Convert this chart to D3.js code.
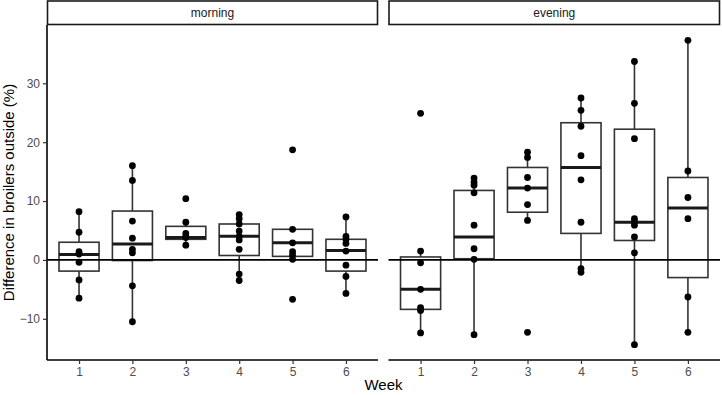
<!DOCTYPE html>
<html>
<head>
<meta charset="utf-8">
<script src="https://cdn.jsdelivr.net/npm/d3@7"></script>
<style>
  body { margin: 0; background: #fff; }
  text { font-family: "Liberation Sans", Arial, sans-serif; }
</style>
</head>
<body>
<svg id="chart" width="722" height="395"></svg>
<script>
var width = 722, height = 395

var weeks = [1, 2, 3, 4, 5, 6]
var sessions = ["morning", "evening"]
var yTicks = [-10, 0, 10, 20, 30]

// individual observations per week
var morningPoints = [
  [8.2, 4.7, 1.4, 1.0, -0.4, -3.4, -6.5],
  [16.0, 13.5, 6.6, 3.7, 1.8, 1.2, -4.4, -10.5],
  [10.4, 6.4, 4.5, 4.0, 3.8, 2.5],
  [7.7, 7.0, 6.1, 4.9, 4.0, 3.4, 1.8, -2.4, -3.5],
  [18.7, 5.2, 2.9, 1.4, 0.8, 0.1, -6.7],
  [7.3, 4.0, 3.5, 2.8, 1.5, -0.9, -2.8, -5.7]
]
var eveningPoints = [
  [24.9, 1.5, -0.5, -5.0, -8.1, -8.6, -12.4],
  [13.9, 13.2, 12.7, 11.4, 5.9, 1.9, 0.1, -12.7],
  [18.3, 17.4, 14.0, 12.2, 9.4, 6.7, -12.3],
  [27.5, 25.4, 22.7, 17.7, 13.6, 6.4, -1.5, -2.1],
  [33.7, 26.6, 20.6, 7.0, 6.5, 5.9, 3.9, 1.2, -14.4],
  [37.3, 15.1, 10.6, 7.0, -6.3, -12.3]
]

// box stats: [lower whisker, q1, median, q3, upper whisker]
var morningBox = [
  [-6.5, -1.9, 0.9, 3.0, 8.2],
  [-10.5, -0.1, 2.7, 8.3, 16.0],
  [2.5, 3.5, 3.8, 5.7, 6.4],
  [-3.5, 0.75, 4.0, 6.1, 7.7],
  [0.1, 0.6, 2.9, 5.2, 5.2],
  [-5.7, -1.9, 1.6, 3.5, 7.3]
]
var eveningBox = [
  [-12.4, -8.4, -5.0, 0.5, 1.5],
  [-12.7, 0.2, 3.9, 11.8, 13.9],
  [6.7, 8.1, 12.2, 15.7, 18.3],
  [-2.1, 4.5, 15.7, 23.3, 27.5],
  [-14.4, 3.3, 6.4, 22.2, 33.7],
  [-12.3, -3.0, 8.8, 14.0, 37.3]
]

var panels = [
  {name: sessions[0], left: 47, right: 378, points: morningPoints, box: morningBox},
  {name: sessions[1], left: 388.5, right: 720, points: eveningPoints, box: eveningBox}
]

var panelTop = 25, panelBottom = 360

var y = d3.scaleLinear().domain([-17.0, 39.9]).range([panelBottom, panelTop])

var svg = d3.select('#chart')

panels.forEach(function(p, pi) {
  var x = d3.scalePoint().domain(weeks).range([p.left, p.right]).padding(0.6)
  var bw = x.step() * 0.75
  var g = svg.append('g')

  // strip
  g.append('rect')
    .attr('x', p.left + 0.5).attr('y', 1)
    .attr('width', p.right - p.left - 1).attr('height', 23.5)
    .attr('fill', 'white').attr('stroke', '#1a1a1a').attr('stroke-width', 1.6)
  g.append('text')
    .attr('x', (p.left + p.right) / 2).attr('y', 17)
    .attr('text-anchor', 'middle')
    .style('font-size', '12px').attr('fill', '#1a1a1a')
    .text(p.name)

  var boxes = g.append('g').selectAll('g')
    .data(p.box)
    .enter().append('g')

  // whiskers
  boxes.append('line')
    .attr('x1', (d, i) => x(weeks[i])).attr('x2', (d, i) => x(weeks[i]))
    .attr('y1', d => y(d[4])).attr('y2', d => y(d[3]))
    .attr('stroke', '#333').attr('stroke-width', 1.6)
  boxes.append('line')
    .attr('x1', (d, i) => x(weeks[i])).attr('x2', (d, i) => x(weeks[i]))
    .attr('y1', d => y(d[1])).attr('y2', d => y(d[0]))
    .attr('stroke', '#333').attr('stroke-width', 1.6)

  boxes.append('rect')
    .attr('x', (d, i) => x(weeks[i]) - bw / 2)
    .attr('y', d => y(d[3]))
    .attr('width', bw)
    .attr('height', d => y(d[1]) - y(d[3]))
    .attr('fill', 'white').attr('stroke', '#333').attr('stroke-width', 1.6)

  boxes.append('line')
    .attr('x1', (d, i) => x(weeks[i]) - bw / 2).attr('x2', (d, i) => x(weeks[i]) + bw / 2)
    .attr('y1', d => y(d[2])).attr('y2', d => y(d[2]))
    .attr('stroke', '#1a1a1a').attr('stroke-width', 3)

  // zero line
  g.append('line')
    .attr('x1', p.left).attr('x2', p.right)
    .attr('y1', y(0)).attr('y2', y(0))
    .attr('stroke', 'black').attr('stroke-width', 1.6)

  // points
  var pts = []
  p.points.forEach(function(vals, i) {
    vals.forEach(v => pts.push({week: weeks[i], value: v}))
  })
  g.append('g').selectAll('circle')
    .data(pts)
    .enter().append('circle')
    .attr('cx', d => x(d.week))
    .attr('cy', d => y(d.value))
    .attr('r', 3.4)
    .attr('fill', 'black')

  // x axis
  var xa = g.append('g')
    .attr('transform', 'translate(0,' + panelBottom + ')')
    .call(d3.axisBottom(x).tickSize(4).tickPadding(3))
  xa.select('.domain').attr('d', 'M' + p.left + ',0H' + p.right)
    .attr('stroke', 'black').attr('stroke-width', 1.6)
  xa.selectAll('.tick line').attr('stroke', '#333').attr('stroke-width', 1.2)
  xa.selectAll('.tick text').attr('fill', '#4d4d4d')
    .style('font-size', '12px').style('font-family', '"Liberation Sans", Arial, sans-serif')

  if (pi === 0) {
    var ya = g.append('g')
      .attr('transform', 'translate(' + p.left + ',0)')
      .call(d3.axisLeft(y).tickValues(yTicks).tickSize(4).tickPadding(3))
    ya.select('.domain').attr('d', 'M0,' + panelTop + 'V' + panelBottom)
      .attr('stroke', 'black').attr('stroke-width', 1.6)
    ya.selectAll('.tick line').attr('stroke', '#333').attr('stroke-width', 1.2)
    ya.selectAll('.tick text').attr('fill', '#4d4d4d')
      .style('font-size', '12px').style('font-family', '"Liberation Sans", Arial, sans-serif')
  }
})

// titles
svg.append('text')
  .attr('x', (panels[0].left + panels[1].right) / 2).attr('y', 390)
  .attr('text-anchor', 'middle')
  .style('font-size', '15px').attr('fill', 'black')
  .text('Week')

svg.append('text')
  .attr('transform', 'translate(14,' + (panelTop + panelBottom) / 2 + ') rotate(-90)')
  .attr('text-anchor', 'middle')
  .style('font-size', '15px').attr('fill', 'black')
  .text('Difference in broilers outside (%)')
</script>
</body>
</html>
